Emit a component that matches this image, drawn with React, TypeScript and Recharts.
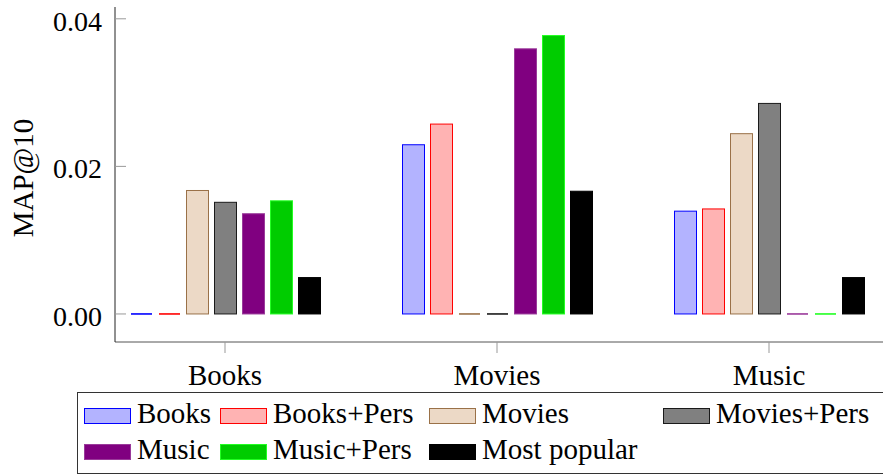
import React from 'react';
import { BarChart, Bar, XAxis, YAxis } from 'recharts';

const FONT = 'Liberation Serif, Times New Roman, serif';

// MAP@10 per target domain, one array per model
const categories = ['Books', 'Movies', 'Music'];
const books = [0, 0.023, 0.014];
const booksPers = [0, 0.0258, 0.0143];
const movies = [0.0168, 0, 0.0245];
const moviesPers = [0.0152, 0, 0.0286];
const music = [0.01365, 0.036, 0];
const musicPers = [0.0154, 0.0378, 0];
const mostPopular = [0.005, 0.0167, 0.005];
const yTicks = [0, 0.02, 0.04];

const series = [
  { key: 'books', name: 'Books', values: books, fill: '#b3b3ff', stroke: '#0000ff' },
  { key: 'booksPers', name: 'Books+Pers', values: booksPers, fill: '#ffb3b3', stroke: '#ff0000' },
  { key: 'movies', name: 'Movies', values: movies, fill: '#ecd9c6', stroke: '#9a7148' },
  { key: 'moviesPers', name: 'Movies+Pers', values: moviesPers, fill: '#808080', stroke: '#1a1a1a' },
  { key: 'music', name: 'Music', values: music, fill: '#800080', stroke: '#9a3a9a' },
  { key: 'musicPers', name: 'Music+Pers', values: musicPers, fill: '#00cc00', stroke: '#22ff22' },
  { key: 'mostPopular', name: 'Most popular', values: mostPopular, fill: '#000000', stroke: '#000000' },
];

const data = categories.map((cat, i) => {
  const row: Record<string, string | number> = { cat };
  series.forEach((s) => {
    row[s.key] = s.values[i];
  });
  return row;
});

const textStyle = { fontFamily: FONT, fontSize: 28, fill: '#000' };

// zero-valued bars still show as a flat stroke on the baseline
const BarShape = (props: any) => {
  const { x, y, width, height, fill, stroke } = props;
  if (!height || Math.abs(height) < 0.5) {
    return <line x1={x + 1} x2={x + width - 1} y1={y} y2={y} stroke={stroke} strokeWidth={1.6} />;
  }
  return (
    <rect x={x + 0.5} y={y + 0.5} width={width - 1} height={height - 0.5} fill={fill} stroke={stroke} strokeWidth={1} />
  );
};

const YTick = (props: any) => {
  const { x, y, payload } = props;
  return (
    <g>
      <line x1={x + 13} x2={x + 24} y1={y} y2={y} stroke="#999" strokeWidth={1} />
      <text x={x} y={y + 12} textAnchor="end" style={textStyle}>
        {payload.value.toFixed(2)}
      </text>
    </g>
  );
};

const XTick = (props: any) => {
  const { x, y, payload } = props;
  return (
    <text x={x} y={y + 20} textAnchor="middle" style={{ ...textStyle, fontSize: 29 }}>
      {payload.value}
    </text>
  );
};

// legend table layout: column x positions and row tops
const legendCols = [84, 220, 429, 663];
const legendRows = [408, 444];

const LegendBox = () => (
  <svg width={883} height={475} style={{ position: 'absolute', left: 0, top: 0, pointerEvents: 'none' }}>
    <rect x={77.5} y={392.5} width={900} height={81} fill="#fff" stroke="#333" strokeWidth={1} />
    {series.map((s, i) => {
      const row = i < 4 ? 0 : 1;
      const col = i < 4 ? i : i - 4;
      const sx = legendCols[col];
      const sy = legendRows[row];
      return (
        <g key={s.key}>
          <rect x={sx + 0.5} y={sy + 0.5} width={46} height={15} fill={s.fill} stroke={s.stroke} strokeWidth={1} />
          <text x={sx + 53} y={sy + 15} style={{ ...textStyle, fontSize: 29 }}>
            {s.name}
          </text>
        </g>
      );
    })}
  </svg>
);

export default function App() {
  return (
    <div
      style={{
        position: 'fixed',
        left: 0,
        top: 0,
        width: 883,
        height: 475,
        overflow: 'hidden',
        background: '#fff',
        fontFamily: FONT,
      }}
    >
      <BarChart
        width={910}
        height={475}
        data={data}
        margin={{ top: 7, right: 10, bottom: 88, left: 0 }}
        barSize={23}
        barGap={5}
      >
        <XAxis
          dataKey="cat"
          padding={{ left: -26, right: -5 }}
          height={45}
          tickSize={11}
          tickMargin={12}
          axisLine={{ stroke: '#555' }}
          tickLine={{ stroke: '#999' }}
          tick={<XTick />}
        />
        <XAxis
          xAxisId="top"
          dataKey="cat"
          orientation="top"
          height={0}
          tick={false}
          tickLine={false}
          axisLine={{ stroke: '#555' }}
        />
        <YAxis
          width={115}
          type="number"
          domain={[-0.0038, 0.0416]}
          allowDataOverflow
          ticks={yTicks}
          axisLine={{ stroke: '#222' }}
          tickLine={false}
          tickSize={0}
          tickMargin={13}
          tick={<YTick />}
          label={{
            content: () => (
              <text
                x={33}
                y={178}
                transform="rotate(-90 33 178)"
                textAnchor="middle"
                style={{ ...textStyle, fontSize: 29 }}
              >
                MAP@10
              </text>
            ),
          }}
        />
        {series.map((s) => (
          <Bar
            key={s.key}
            dataKey={s.key}
            name={s.name}
            fill={s.fill}
            stroke={s.stroke}
            shape={<BarShape />}
            isAnimationActive={false}
          />
        ))}
      </BarChart>
      <LegendBox />
    </div>
  );
}
